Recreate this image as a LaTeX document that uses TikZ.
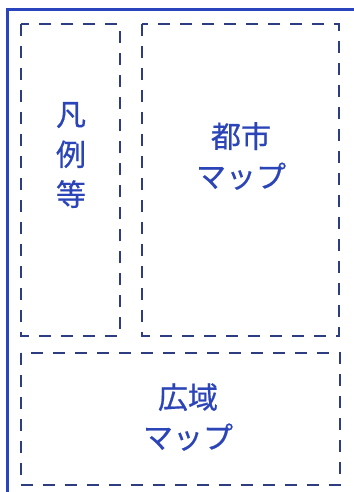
\documentclass[tikz,border=0pt]{standalone}
\usepackage{fontspec}
\newfontfamily\jpfont[FakeBold=0.6]{Noto Sans CJK JP}
\definecolor{txtblue}{HTML}{2B45B8}
\definecolor{frameblue}{HTML}{2A44BE}
\definecolor{dashnavy}{HTML}{2E3C80}
\begin{document}
\begin{tikzpicture}[x=1pt,y=-1pt,
  area/.style={draw=dashnavy,line width=2pt,dash pattern=on 12pt off 10pt},
  lbl/.style={text=txtblue,font=\jpfont\fontsize{30}{40}\selectfont,align=center,inner sep=0pt}]
\useasboundingbox (0,0) rectangle (353,492);
\fill[white] (0,0) rectangle (353,492);
\draw[frameblue,line width=3pt] (7,494) -- (7,10) -- (355,10);
\draw[area] (21,24) rectangle (120,336);
\draw[area] (142,24) rectangle (339,336);
\draw[area] (21,353) rectangle (340,485);
\node[lbl] (hanrei) at (71,155) {凡\\例\\等};
\node[lbl] (toshi) at (241,156) {都市\\マップ};
\node[lbl] (koiki) at (188,417) {広域\\マップ};
\end{tikzpicture}
\end{document}
